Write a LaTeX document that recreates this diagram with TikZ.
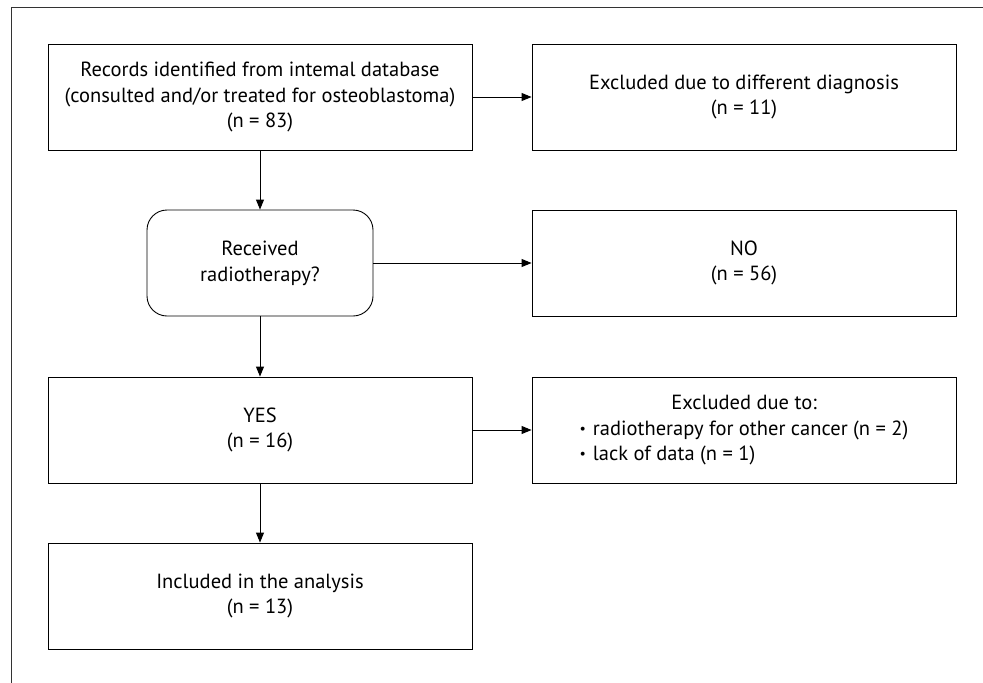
\documentclass[tikz,border=0pt]{standalone}
\usepackage{fontspec}
\setmainfont{PT Sans}
\usetikzlibrary{arrows.meta}
\newcommand{\listdot}{\raisebox{2pt}{\fontsize{14}{14}\selectfont\textbullet}\hspace{7pt}}

\begin{document}
\begin{tikzpicture}[x=1pt,y=-1pt,>={Triangle[length=10pt,width=8pt]},line width=0.9pt]
\tikzstyle{mainbox} = [rectangle, draw=black, minimum width=424pt, minimum height=106pt, align=center, inner sep=0pt, font=\fontsize{20.5}{25.7}\selectfont]
\tikzstyle{sidebox} = [rectangle, draw=black, minimum width=424pt, minimum height=106pt, align=center, inner sep=0pt, font=\fontsize{20.5}{25.7}\selectfont]
\tikzstyle{question} = [rectangle, rounded corners=20pt, draw=black, minimum width=226pt, minimum height=106pt, align=center, inner sep=0pt, font=\fontsize{20.5}{25.7}\selectfont]

\useasboundingbox (0,0) rectangle (983,683);
\draw[black!80] (11,683) -- (11,7) -- (983,7);

\node(records) [mainbox] at (260,97) {Records identified from intemal database\\
(consulted and/or treated for osteoblastoma)\\ (n = 83)};
\node(received) [question] at (260,263) {Received\\ radiotherapy?};
\node(yes) [mainbox] at (260,430) {YES\\ (n = 16)};
\node(included) [mainbox] at (260,596) {Included in the analysis\\ (n = 13)};
\node(diagnosis) [sidebox] at (744,97) {Excluded due to different diagnosis\\ (n = 11)};
\node(no) [sidebox] at (744,263) {NO\\ (n = 56)};
\node(excluded) [sidebox] at (744,430) {\begin{tabular}{@{}l@{}}
\multicolumn{1}{@{}c@{}}{Excluded due to:}\\
\listdot radiotherapy for other cancer (n = 2)\\
\listdot lack of data (n = 1)
\end{tabular}};
\draw[->] (records) -- (received);
\draw[->] (received) -- (yes);
\draw[->] (yes) -- (included);
\draw[->] (records) -- (diagnosis);
\draw[->] (received) -- (no);
\draw[->] (yes) -- (excluded);
\end{tikzpicture}
\end{document}
